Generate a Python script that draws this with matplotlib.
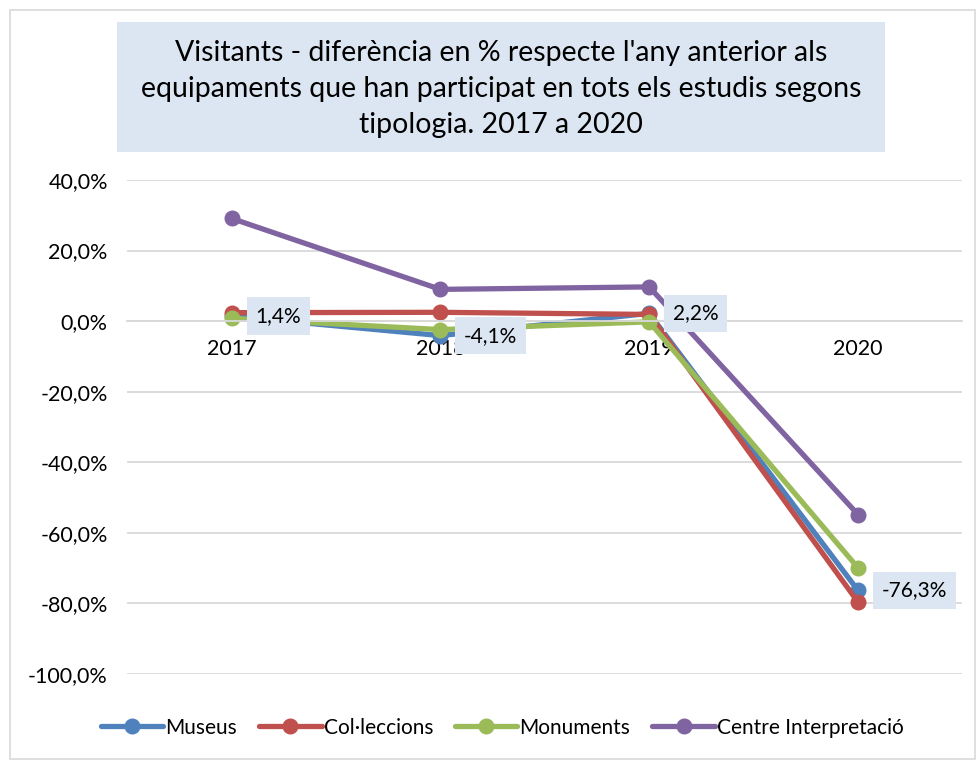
import matplotlib
matplotlib.use("Agg")
import matplotlib.pyplot as plt
from matplotlib.patches import Rectangle
from matplotlib.ticker import FuncFormatter

plt.rcParams['font.family'] = ['Lato', 'DejaVu Sans']

years = ["2017", "2018", "2019", "2020"]
museus = [1.4, -4.1, 2.2, -76.3]
colleccions = [2.4, 2.5, 1.9, -79.6]
monuments = [0.8, -2.4, -0.2, -69.9]
centre = [29.1, 9.0, 9.7, -54.8]
series_names = ["Museus", "Col·leccions", "Monuments", "Centre Interpretació"]
colors = ["#4f81bd", "#c0504d", "#9bbb59", "#8064a2"]
label_values = museus
title = "Visitants - diferència en % respecte l'any anterior als\nequipaments que han participat en tots els estudis segons\ntipologia. 2017 a 2020"

W, H = 979, 761
fig = plt.figure(figsize=(W / 100, H / 100), dpi=100)
fig.patches.append(Rectangle((0.010, 0.002), 0.986, 0.985, transform=fig.transFigure,
                             fill=False, edgecolor="#d9d9d9", linewidth=1.2))
# title box
fig.patches.append(Rectangle((117 / W, 1 - 152 / H), (885 - 117) / W, (152 - 22) / H,
                             transform=fig.transFigure, facecolor='#dce6f2', edgecolor='none'))
fig.text(501 / W, 1 - 89 / H, title, ha='center', va='center', fontsize=20.5, linespacing=1.48)

ax = fig.add_axes([0.130, 0.1143, 0.853, 0.6492])
x = list(range(len(years)))
for vals, name, c in zip([museus, colleccions, monuments, centre], series_names, colors):
    ax.plot(x, vals, color=c, linewidth=3.8, marker='o', markersize=10.5, label=name,
            solid_capstyle='round')

for xi, v in zip(x, label_values):
    ax.annotate(f"{v:.1f}%".replace('.', ','), (xi, v), xytext=(17, 0), textcoords='offset points',
                ha='left', va='center', fontsize=15, color='#000000',
                bbox=dict(boxstyle='square,pad=0.42', facecolor='#dce6f2', edgecolor='none'),
                zorder=10)

ax.set_xlim(-0.5, 3.5)
ax.set_ylim(-100, 40)
ax.set_yticks([40, 20, 0, -20, -40, -60, -80, -100])
ax.yaxis.set_major_formatter(FuncFormatter(lambda v, p: f"{v:.1f}%".replace('.', ',')))
ax.grid(axis='y', color='#d9d9d9', linewidth=1.3)
ax.set_axisbelow(True)
for s in ['top', 'right', 'left']:
    ax.spines[s].set_visible(False)
ax.spines['bottom'].set_position(('data', 0))
ax.spines['bottom'].set_color('#d9d9d9')
ax.spines['bottom'].set_linewidth(1.3)
ax.set_xticks(x)
ax.set_xticklabels(years)
ax.tick_params(axis='x', length=0, pad=13, labelsize=15.5)
ax.tick_params(axis='y', length=0, pad=14, labelsize=15.5)

fig.legend(loc='center', bbox_to_anchor=(0.513, 0.044), ncol=4, frameon=False,
           fontsize=15, handlelength=3.0, handletextpad=0.1, columnspacing=1.05)

fig.savefig("out.png", dpi=100)
